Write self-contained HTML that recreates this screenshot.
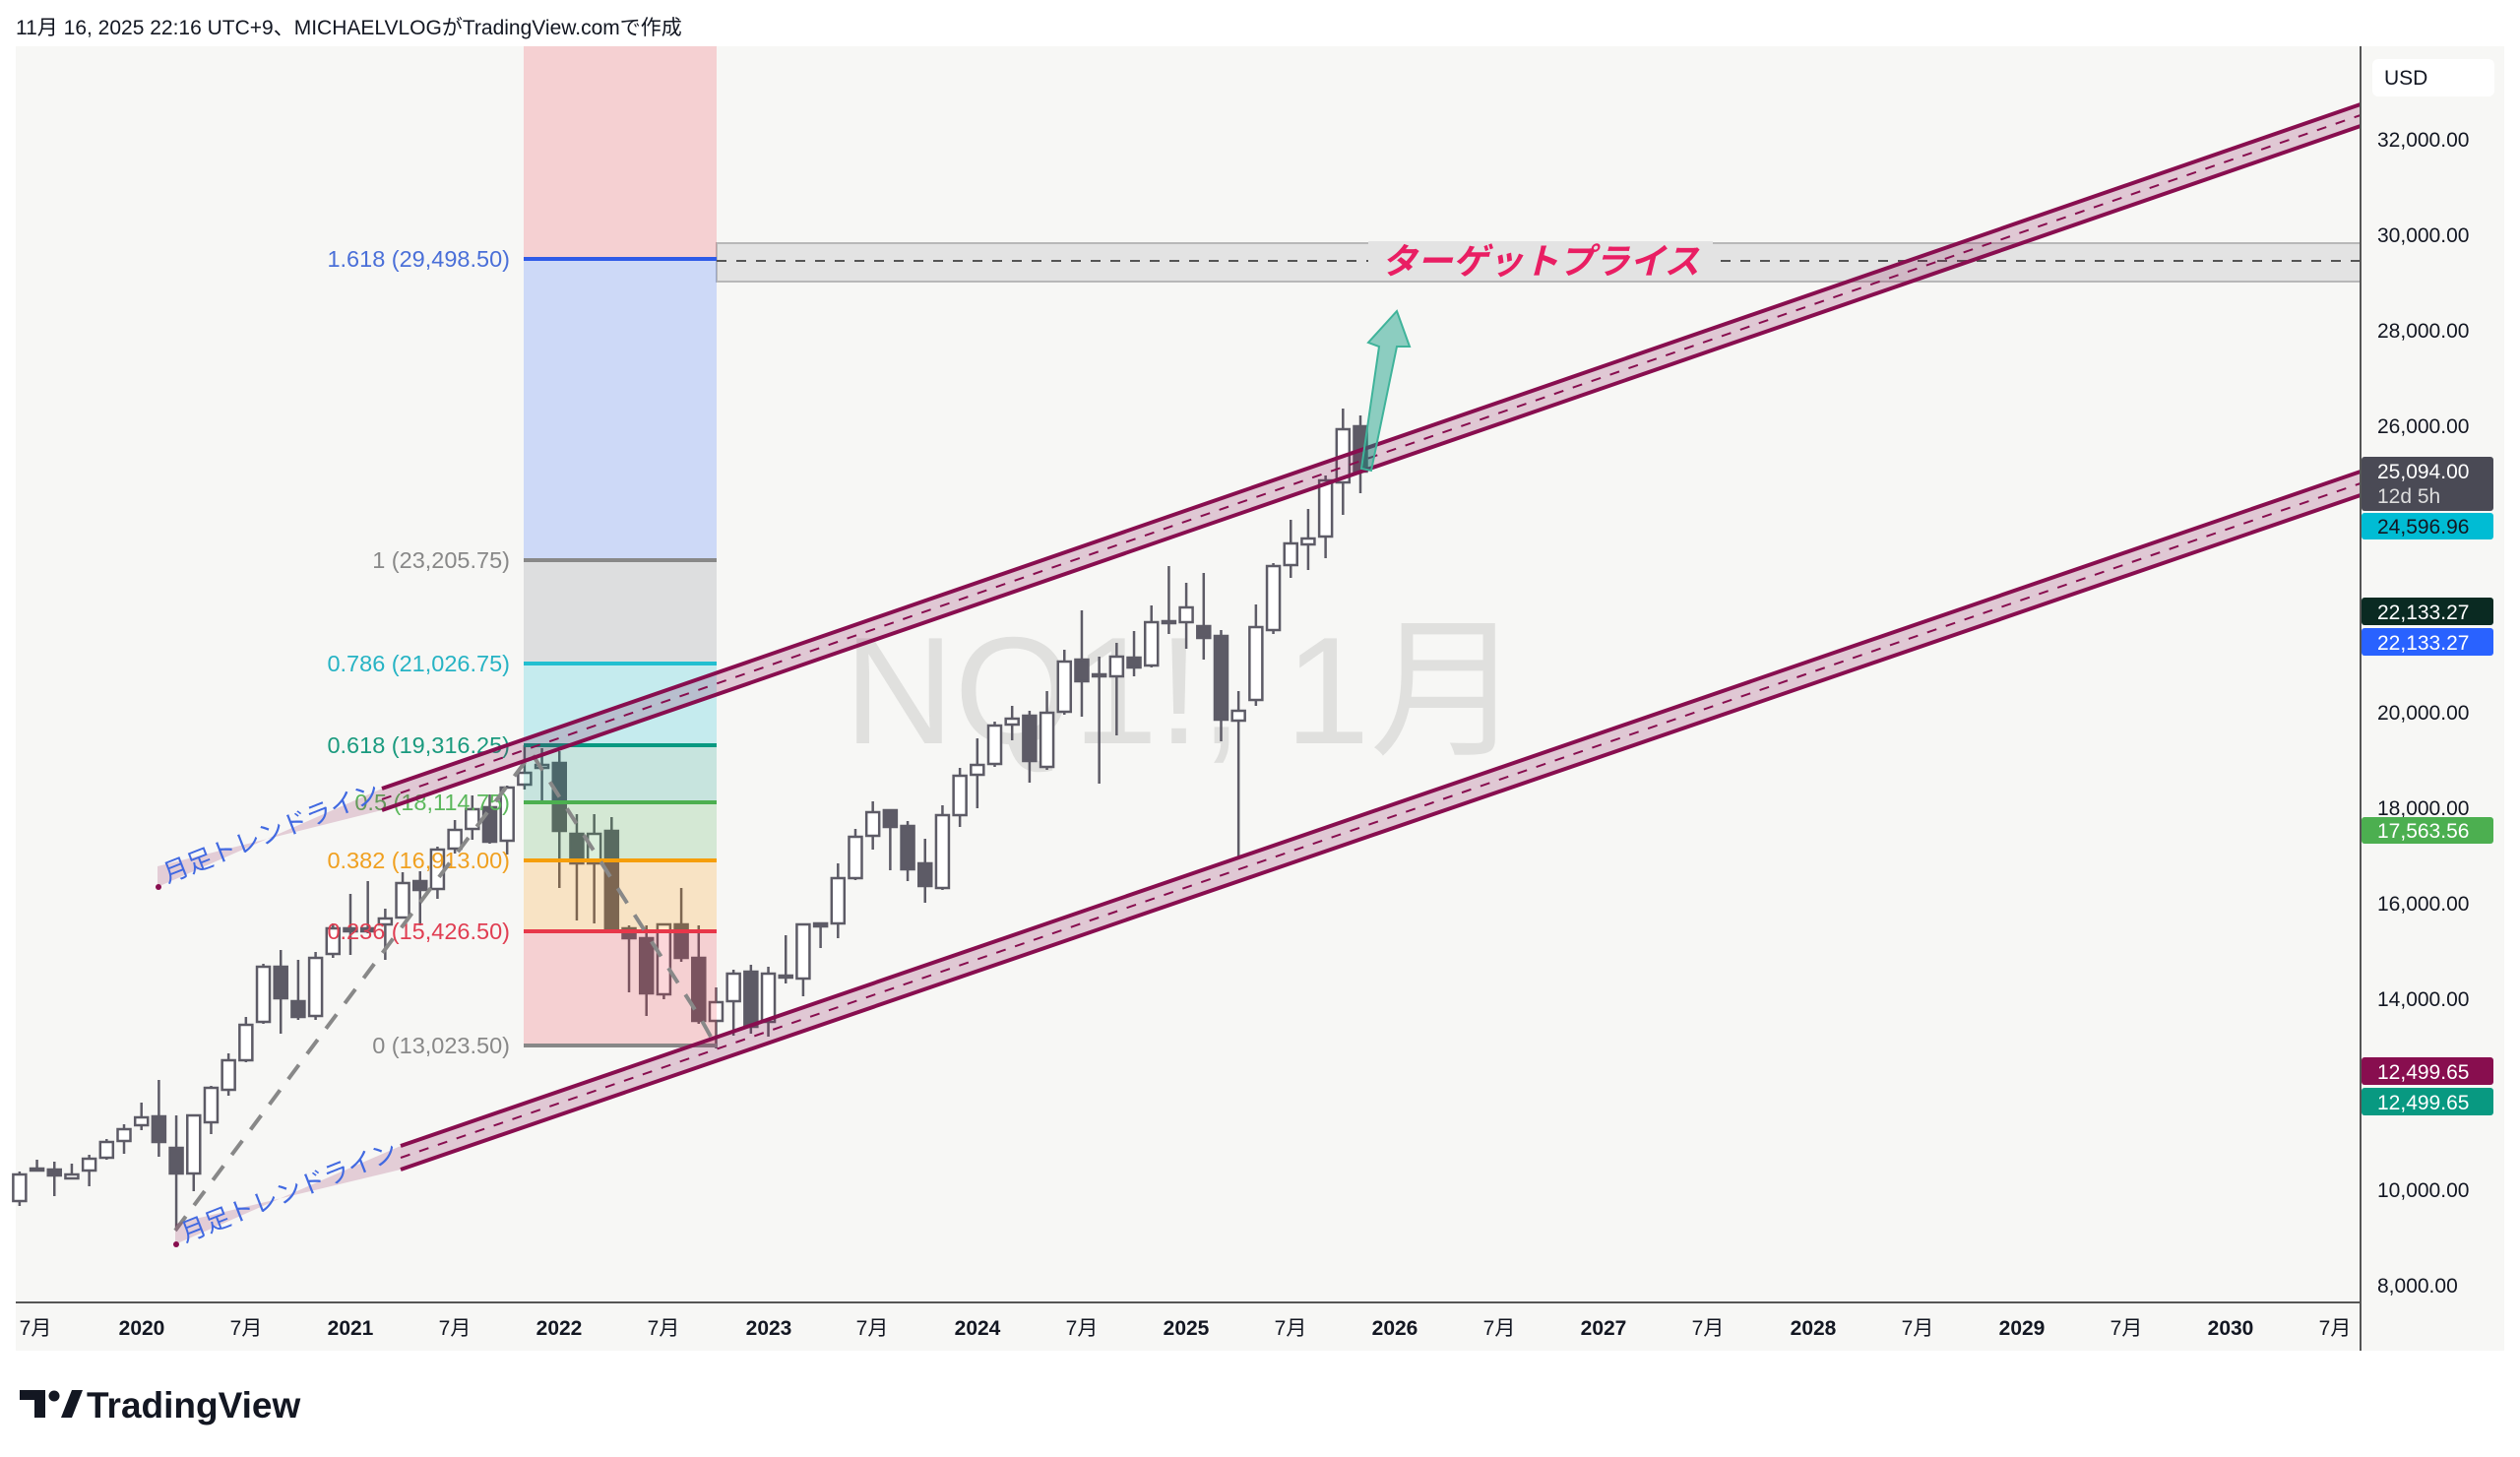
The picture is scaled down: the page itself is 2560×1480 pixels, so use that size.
<!DOCTYPE html>
<html><head><meta charset="utf-8">
<style>
html,body{margin:0;padding:0;background:#fff;}
svg{display:block;}
text{font-family:"Liberation Sans","Noto Sans CJK JP",sans-serif;}
</style></head>
<body>
<svg id="s" width="2560" height="1480" viewBox="0 0 2560 1480" xmlns="http://www.w3.org/2000/svg">
<rect x="0" y="0" width="2560" height="1480" fill="#ffffff"/>
<text x="16" y="35" font-size="21" fill="#131722">11月 16, 2025 22:16 UTC+9、MICHAELVLOGがTradingView.comで作成</text>
<rect x="16" y="47" width="2528" height="1325" fill="#f7f7f5"/>
<!-- watermark -->
<text x="1202" y="755" font-size="155" fill="#000" fill-opacity="0.09" text-anchor="middle">NQ1!, 1月</text>
<!-- target box -->
<rect x="728" y="247" width="1670" height="39" fill="#e3e3e3" stroke="#b8b8b8" stroke-width="2"/>
<line x1="728" y1="265" x2="2398" y2="265" stroke="#555" stroke-width="2" stroke-dasharray="10 10"/>
<rect x="1390" y="245" width="350" height="40" fill="#e3e3e3"/>
<text x="1565" y="278" font-size="36" font-weight="bold" font-style="italic" fill="#e91e63" text-anchor="middle">ターゲットプライス</text>
<g id="candles"></g>
<!-- fib fills -->
<rect x="532" y="47" width="196" height="216" fill="rgb(242,54,69)" fill-opacity="0.2"/>
<rect x="532" y="263" width="196" height="306" fill="rgb(41,98,255)" fill-opacity="0.2"/>
<rect x="532" y="569" width="196" height="105" fill="rgb(120,123,134)" fill-opacity="0.2"/>
<rect x="532" y="674" width="196" height="83" fill="rgb(0,188,212)" fill-opacity="0.2"/>
<rect x="532" y="757" width="196" height="58" fill="rgb(8,153,129)" fill-opacity="0.2"/>
<rect x="532" y="815" width="196" height="59" fill="rgb(76,175,80)" fill-opacity="0.2"/>
<rect x="532" y="874" width="196" height="72" fill="rgb(255,152,0)" fill-opacity="0.2"/>
<rect x="532" y="946" width="196" height="116" fill="rgb(242,54,69)" fill-opacity="0.2"/>
<g stroke-width="4">
<line x1="532" y1="263" x2="728" y2="263" stroke="#2f5be8"/>
<line x1="532" y1="569" x2="728" y2="569" stroke="#888"/>
<line x1="532" y1="674" x2="728" y2="674" stroke="#22bfd0"/>
<line x1="532" y1="757" x2="728" y2="757" stroke="#089981"/>
<line x1="532" y1="815" x2="728" y2="815" stroke="#4caf50"/>
<line x1="532" y1="874" x2="728" y2="874" stroke="#f59e0b"/>
<line x1="532" y1="946" x2="728" y2="946" stroke="#e8374a"/>
<line x1="532" y1="1062" x2="728" y2="1062" stroke="#888"/>
</g>
<g font-size="23.5" text-anchor="end">
<text x="518" y="271" fill="#4a6fd8">1.618 (29,498.50)</text>
<text x="518" y="577" fill="#888">1 (23,205.75)</text>
<text x="518" y="682" fill="#26b3c4">0.786 (21,026.75)</text>
<text x="518" y="765" fill="#1a9a7e">0.618 (19,316.25)</text>
<text x="518" y="823" fill="#5cb85c">0.5 (18,114.75)</text>
<text x="518" y="882" fill="#f0a020">0.382 (16,913.00)</text>
<text x="518" y="954" fill="#e03e52">0.236 (15,426.50)</text>
<text x="518" y="1070" fill="#888">0 (13,023.50)</text>
</g>
<!-- zigzag -->
<polyline points="178,1250 540,765 712,1035 727,1062" fill="none" stroke="#888" stroke-width="4" stroke-dasharray="18 14"/>
<!-- channels -->
<g>
<polygon points="388,801 2398,106 2398,128 388,823" fill="rgb(136,14,79)" fill-opacity="0.2"/>
<line x1="388" y1="801" x2="2398" y2="106" stroke="#880e4f" stroke-width="4"/>
<line x1="388" y1="823" x2="2398" y2="128" stroke="#880e4f" stroke-width="4"/>
<line x1="388" y1="812" x2="2398" y2="117" stroke="#880e4f" stroke-width="2" stroke-dasharray="10 10"/>
<polygon points="407,1164 2398,479 2398,503 407,1188" fill="rgb(136,14,79)" fill-opacity="0.2"/>
<line x1="407" y1="1164" x2="2398" y2="479" stroke="#880e4f" stroke-width="4"/>
<line x1="407" y1="1188" x2="2398" y2="503" stroke="#880e4f" stroke-width="4"/>
<line x1="407" y1="1176" x2="2398" y2="491" stroke="#880e4f" stroke-width="2" stroke-dasharray="10 10"/>
</g>
<!-- trend labels -->
<polygon points="160,901 388,801 388,823 160,880" fill="rgb(136,14,79)" fill-opacity="0.18"/>
<circle cx="161" cy="901" r="3" fill="#880e4f"/>
<text transform="translate(170,897) rotate(-21.5)" font-size="26" fill="#4169e1">月足トレンドライン</text>
<polygon points="178,1264 407,1164 407,1188 178,1243" fill="rgb(136,14,79)" fill-opacity="0.18"/>
<circle cx="179" cy="1264" r="3" fill="#880e4f"/>
<text transform="translate(188,1262) rotate(-21.5)" font-size="26" fill="#4169e1">月足トレンドライン</text>
<!-- arrow -->
<polygon points="1383,476 1401,352 1390,348 1419,316 1432,352 1419,352 1393,478" fill="rgb(8,153,129)" fill-opacity="0.45" stroke="#3fb39a" stroke-width="2"/>
<!-- axes -->
<line x1="16" y1="1323" x2="2398" y2="1323" stroke="#555" stroke-width="2"/>
<line x1="2398" y1="47" x2="2398" y2="1372" stroke="#555" stroke-width="2"/>
<rect x="2410" y="60" width="124" height="38" rx="6" fill="#fff"/>
<text x="2422" y="86" font-size="21" fill="#131722">USD</text>
<g font-size="21" fill="#131722">
<text x="2415" y="149">32,000.00</text>
<text x="2415" y="246">30,000.00</text>
<text x="2415" y="343">28,000.00</text>
<text x="2415" y="440">26,000.00</text>
<text x="2415" y="731">20,000.00</text>
<text x="2415" y="828">18,000.00</text>
<text x="2415" y="925">16,000.00</text>
<text x="2415" y="1022">14,000.00</text>
<text x="2415" y="1216">10,000.00</text>
<text x="2415" y="1313">8,000.00</text>
</g>
<g font-size="21" fill="#fff">
<rect x="2399" y="464" width="134" height="55" rx="3" fill="#4a4a55"/>
<text x="2415" y="486">25,094.00</text>
<text x="2415" y="511" fill="#ddd">12d 5h</text>
<rect x="2399" y="521" width="134" height="27" rx="3" fill="#00bcd4"/>
<text x="2415" y="542" fill="#131722">24,596.96</text>
<rect x="2399" y="607" width="134" height="28" rx="3" fill="#0a2a22"/>
<text x="2415" y="629">22,133.27</text>
<rect x="2399" y="638" width="134" height="28" rx="3" fill="#2962ff"/>
<text x="2415" y="660">22,133.27</text>
<rect x="2399" y="830" width="134" height="27" rx="3" fill="#4caf50"/>
<text x="2415" y="851">17,563.56</text>
<rect x="2399" y="1074" width="134" height="28" rx="3" fill="#880e4f"/>
<text x="2415" y="1096">12,499.65</text>
<rect x="2399" y="1105" width="134" height="28" rx="3" fill="#089981"/>
<text x="2415" y="1127">12,499.65</text>
</g>
<g font-size="21" fill="#131722" text-anchor="middle">
<text x="36" y="1356">7月</text>
<text x="144" y="1356" font-weight="bold">2020</text>
<text x="250" y="1356">7月</text>
<text x="356" y="1356" font-weight="bold">2021</text>
<text x="462" y="1356">7月</text>
<text x="568" y="1356" font-weight="bold">2022</text>
<text x="674" y="1356">7月</text>
<text x="781" y="1356" font-weight="bold">2023</text>
<text x="886" y="1356">7月</text>
<text x="993" y="1356" font-weight="bold">2024</text>
<text x="1099" y="1356">7月</text>
<text x="1205" y="1356" font-weight="bold">2025</text>
<text x="1311" y="1356">7月</text>
<text x="1417" y="1356" font-weight="bold">2026</text>
<text x="1523" y="1356">7月</text>
<text x="1629" y="1356" font-weight="bold">2027</text>
<text x="1735" y="1356">7月</text>
<text x="1842" y="1356" font-weight="bold">2028</text>
<text x="1948" y="1356">7月</text>
<text x="2054" y="1356" font-weight="bold">2029</text>
<text x="2160" y="1356">7月</text>
<text x="2266" y="1356" font-weight="bold">2030</text>
<text x="2372" y="1356">7月</text>
</g>
<!-- logo -->
<g fill="#131722">
<path d="M20 1412 h26 v28 h-11 v-18 h-15 z"/>
<circle cx="55" cy="1418" r="5.5"/>
<path d="M62 1440 l11 -28 h11 l-11 28 z"/>
</g>
<text x="88" y="1440" font-size="37" font-weight="bold" fill="#131722">TradingView</text>
</svg>
<script>
var d=[
[-7,1193,1220,1190,1225,0],[-6,1187,1189,1178,1190,0],[-5,1188,1194,1180,1215,1],[-4,1193,1197,1182,1197,0],
[-3,1177,1189,1173,1205,0],[-2,1160,1176,1157,1178,0],[-1,1147,1159,1142,1172,0],[0,1135,1143,1120,1148,0],
[1,1134,1160,1097,1175,1],[2,1166,1192,1133,1247,1],[3,1133,1192,1133,1210,0],[4,1105,1140,1103,1152,0],
[5,1077,1107,1070,1113,0],[6,1041,1077,1033,1079,0],[7,982,1038,979,1040,0],[8,982,1014,965,1050,1],
[9,1017,1033,975,1036,1],[10,973,1032,967,1036,0],[11,943,969,938,973,0],[12,943,946,908,970,1],
[13,943,946,895,948,1],[14,933,939,923,975,0],[15,897,932,886,933,0],[16,895,904,885,940,1],
[17,863,903,860,913,0],[18,843,862,833,867,0],[19,822,842,808,853,0],[20,820,855,807,857,1],
[21,800,854,798,868,0],[22,785,797,757,802,0],[23,777,780,760,815,0],[24,775,844,763,902,1],
[25,847,877,827,935,1],[26,847,877,827,938,0],[27,844,944,830,945,1],[28,943,953,940,1008,1],
[29,953,1009,940,1032,1],[30,939,1010,938,1015,0],[31,939,973,902,977,1],[32,973,1037,940,1040,1],
[33,1018,1037,1003,1065,0],[34,989,1017,985,1052,0],[35,987,1043,980,1050,1],[36,989,1038,982,1053,0],
[37,991,993,950,999,1],[38,939,994,939,1012,0],[39,938,941,937,963,1],[40,892,938,877,953,0],
[41,850,892,842,894,0],[42,825,849,814,863,0],[43,823,840,823,884,1],[44,839,883,834,895,1],
[45,877,900,852,917,1],[46,828,902,818,904,0],[47,788,828,780,840,0],[48,777,787,750,821,0],
[49,737,776,733,779,0],[50,730,736,717,752,0],[51,727,773,722,795,1],[52,724,779,702,782,0],
[53,672,723,660,726,0],[54,670,692,620,728,1],[55,685,687,667,796,1],[56,667,687,653,747,0],
[57,668,678,641,687,1],[58,632,676,615,678,0],[59,631,633,575,644,1],[60,617,632,592,659,0],
[61,636,648,582,670,1],[62,646,731,640,753,1],[63,722,732,702,872,0],[64,637,711,614,717,0],
[65,575,640,572,644,0],[66,552,574,528,587,0],[67,547,553,517,579,0],[68,488,545,483,567,0],
[69,436,490,415,523,0],[70,433,479,422,501,1]];
var g=document.getElementById('candles'),h='';
d.forEach(function(c){var x=143.7+17.69*c[0];var col='#5d5b66';
h+='<line x1="'+x+'" x2="'+x+'" y1="'+c[3]+'" y2="'+c[4]+'" stroke="'+col+'" stroke-width="2.5"/>';
var bh=Math.max(c[2]-c[1],2);
h+='<rect x="'+(x-6.5)+'" y="'+c[1]+'" width="13" height="'+bh+'" fill="'+(c[5]?col:'#fff')+'" stroke="'+col+'" stroke-width="2.5"/>';});
g.innerHTML=h;
</script>
</body></html>
